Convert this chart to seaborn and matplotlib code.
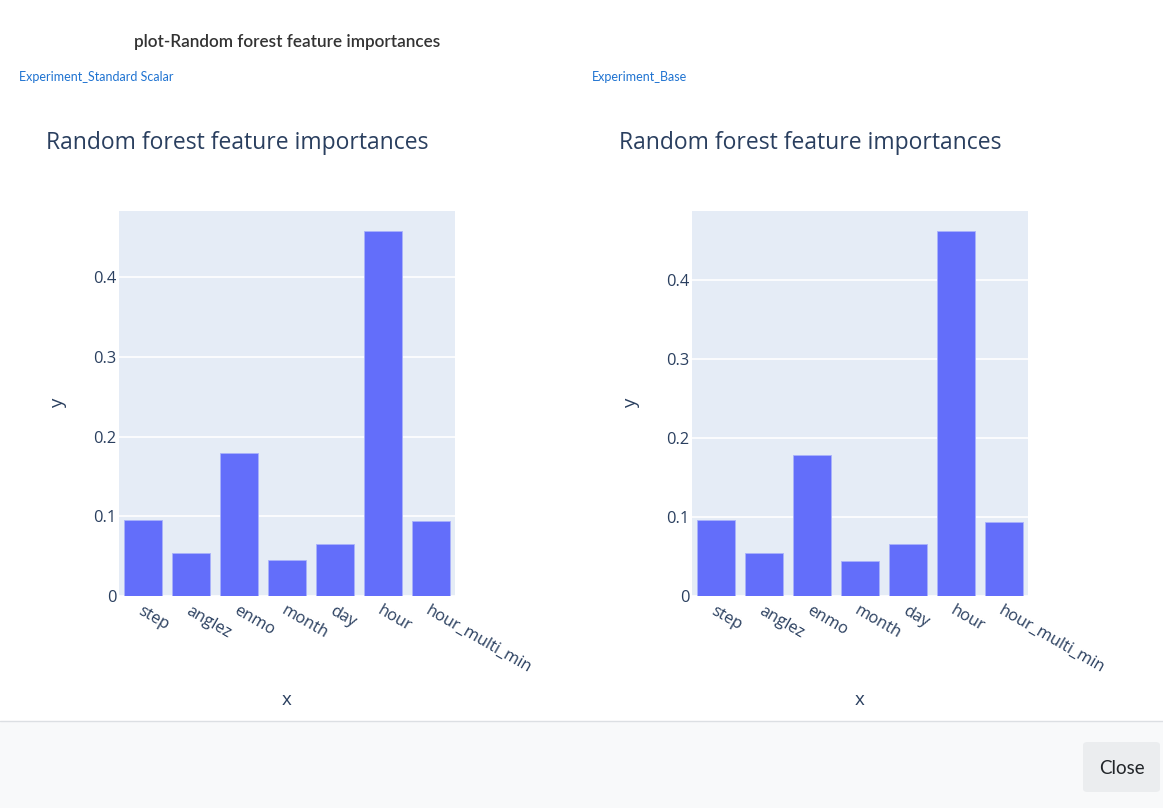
import matplotlib
matplotlib.use("Agg")
import matplotlib.pyplot as plt
from matplotlib.patches import Rectangle, FancyBboxPatch
from matplotlib.ticker import FuncFormatter
import seaborn as sns

features = ["step", "anglez", "enmo", "month", "day", "hour", "hour_multi_min"]
scalar_importances = [0.096, 0.0545, 0.1797, 0.0449, 0.0653, 0.4586, 0.0947]
base_importances = [0.0968, 0.0541, 0.1783, 0.0449, 0.0659, 0.4626, 0.0938]
experiment_names = ["Experiment_Standard Scalar", "Experiment_Base"]
panel_title = "Random forest feature importances"
header_title = "plot-Random forest feature importances"

sns.set_theme(style="white")
plt.rcParams["font.family"] = ["Open Sans", "DejaVu Sans"]

W, H = 1163, 808
fig = plt.figure(figsize=(W / 100, H / 100), dpi=100)
fig.patch.set_facecolor("white")

txt = "#2a3f5f"
bar_color = "#636efa"
bg = "#e5ecf6"


def px(x, y):
    # pixel coords (top-left origin) -> figure fraction
    return x / W, 1 - y / H


def tick_fmt(v, pos):
    if abs(v) < 1e-9:
        return "0"
    return f"{v:.1f}"


def draw_panel(x0, name, name_x, values):
    left, right, top, bottom = x0, x0 + 336, 211, 596
    ax = fig.add_axes([left / W, 1 - bottom / H, (right - left) / W, (bottom - top) / H])
    ax.set_facecolor(bg)
    sns.barplot(x=features, y=values, color=bar_color, saturation=1, width=0.8,
                edgecolor="#aab2fb", linewidth=0.6, ax=ax)
    ax.set_xlim(-0.5, len(features) - 0.5)
    ax.set_ylim(0, max(values) * 1.054)
    ax.set_yticks([0, 0.1, 0.2, 0.3, 0.4])
    ax.yaxis.set_major_formatter(FuncFormatter(tick_fmt))
    ax.grid(axis="y", color="white", linewidth=1.2)
    ax.grid(axis="x", visible=False)
    ax.set_axisbelow(True)
    for s in ax.spines.values():
        s.set_visible(False)
    ax.tick_params(axis="both", length=0, colors=txt, labelsize=11.8)
    ax.tick_params(axis="y", pad=2)
    ax.tick_params(axis="x", pad=5)
    for lab in ax.get_xticklabels():
        lab.set_rotation(-30)
        lab.set_ha("left")
        lab.set_va("top")
        lab.set_rotation_mode("anchor")
        lab.set_color(txt)
    ax.set_xlabel("")
    ax.set_ylabel("")
    # axis titles
    fig.text(*px(left + 168, 700), "x", color=txt, fontsize=13.5, ha="center", va="center")
    fig.text(*px(left - 61, 403), "y", color=txt, fontsize=13.5, ha="center", va="center",
             rotation=90)
    # panel title
    fig.text(*px(left - 73, 143), panel_title, color=txt, fontsize=16.5,
             ha="left", va="center")
    # experiment link
    fig.text(*px(name_x, 77), name, color="#1f73d1", fontsize=9.0,
             ha="left", va="center", family=["Lato", "DejaVu Sans"])


draw_panel(119, experiment_names[0], 19, scalar_importances)
draw_panel(692, experiment_names[1], 592, base_importances)

fig.text(*px(134, 42), header_title, color="#333333", fontsize=12.3,
         fontweight="semibold", ha="left", va="center", family=["Lato", "DejaVu Sans"])

# footer area with close button
fig.patches.append(Rectangle((0, 0), 1, (H - 721) / H, transform=fig.transFigure,
                             facecolor="#f8f9fa", edgecolor="none", zorder=0))
fig.lines.append(plt.Line2D([0, 1], [1 - 721 / H] * 2, transform=fig.transFigure,
                            color="#dcdfe3", linewidth=1))
fig.patches.append(FancyBboxPatch((1083 / W, 1 - 792 / H), 77 / W, 50 / H,
                                  boxstyle="round,pad=0,rounding_size=0.004",
                                  transform=fig.transFigure, facecolor="#ebedef",
                                  edgecolor="none", zorder=1))
fig.text(*px(1121.5, 768), "Close", color="#212529", fontsize=13.5, ha="center",
         va="center", family=["Lato", "DejaVu Sans"])

fig.savefig("out.png", dpi=100)
